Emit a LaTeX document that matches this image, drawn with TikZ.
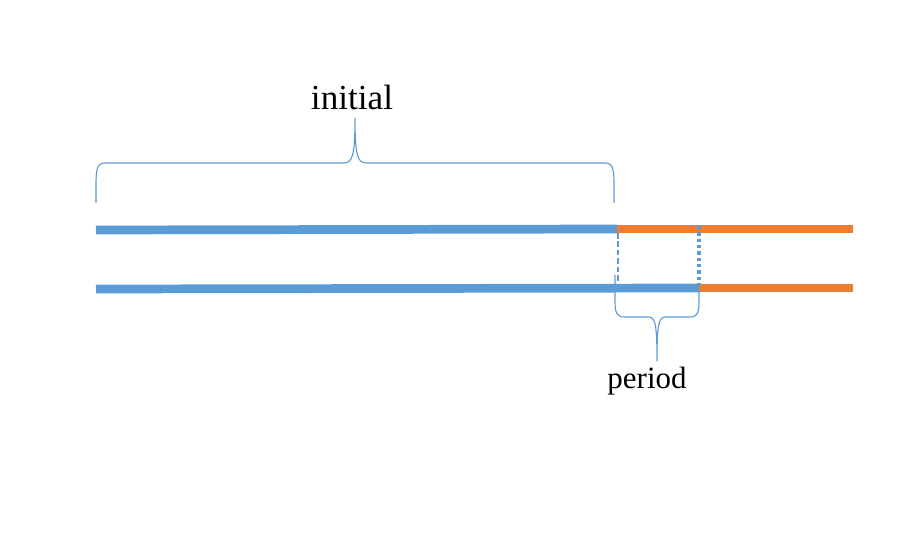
\documentclass[tikz,border=0pt]{standalone}
\usepackage{fontspec}
\setmainfont{Liberation Serif}
\usepackage{xcolor}
\usetikzlibrary{positioning}
\definecolor{lineblue}{HTML}{5B9BD5}
\definecolor{lineorange}{HTML}{ED7D31}

\begin{document}
\begin{tikzpicture}[
    x=0.025cm, y=-0.025cm,
    bar/.style={line width=6.2pt},
    brace/.style={draw=lineblue, line width=0.8pt},
    label/.style={font=\fontsize{25}{29}\selectfont, inner sep=0pt}
]
    \useasboundingbox (0,0) rectangle (898,556);
    % Two timelines
    \coordinate (topstart) at (96,230);
    \coordinate (topsplit) at (617,229);
    \coordinate (topend) at (853,229);
    \coordinate (botstart) at (96,289);
    \coordinate (botsplit) at (699,288);
    \coordinate (botend) at (853,288);

    \draw[bar, lineblue] (topstart) -- (topsplit);
    \draw[bar, lineorange, line width=5.4pt] (topsplit) -- (topend);
    \draw[bar, lineblue] (botstart) -- (botsplit);
    \draw[bar, lineorange, line width=5.4pt] (botsplit) -- (botend);

    % Links between the timelines
    \coordinate (dashtop) at (618,233);
    \coordinate (dashbot) at (618,283);
    \coordinate (dottop) at (699,226);
    \coordinate (dotbot) at (699,285);
    \draw[lineblue, line width=1.5pt, dash pattern=on 4pt off 2pt] (dashtop) -- (dashbot);
    \draw[lineblue, line width=2.5pt, dash pattern=on 2.5pt off 2pt] (dottop) -- (dotbot);

    % Braces
    \draw[brace] (96,203) -- (96,185) .. controls (96,166) and (98,163) .. (106,163)
        -- (343,163) .. controls (352,163) and (355,158) .. (355,118)
        .. controls (355,158) and (358,163) .. (367,163)
        -- (604,163) .. controls (612,163) and (614,166) .. (614,185) -- (614,203);
    \draw[brace] (615,275) -- (615,302) .. controls (615,313) and (617,317) .. (625,317)
        -- (648,317) .. controls (655,317) and (657,322) .. (657,361)
        .. controls (657,322) and (659,317) .. (666,317)
        -- (690,317) .. controls (697,317) and (699,313) .. (699,302) -- (699,290);

    \node[label] (initial) at (352,97) {initial};
    \node[label, font=\fontsize{22}{26}\selectfont] (period) at (647,381) {period};
\end{tikzpicture}
\end{document}
